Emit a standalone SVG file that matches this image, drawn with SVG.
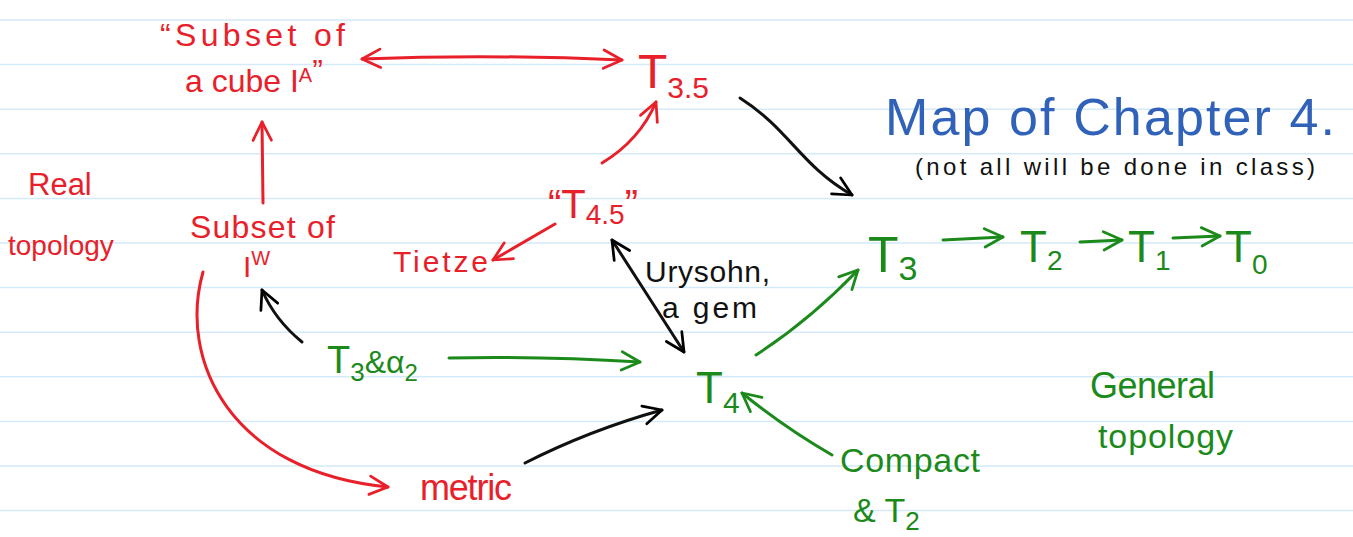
<svg xmlns="http://www.w3.org/2000/svg" width="1353" height="537" viewBox="0 0 1353 537">
  <defs>
    <marker id="hr" viewBox="0 0 12 12" refX="11" refY="6" markerUnits="userSpaceOnUse" markerWidth="22" markerHeight="22" orient="auto-start-reverse">
      <path d="M1,1 L11,6 L1,11" fill="none" stroke="#e8202a" stroke-width="1.5" stroke-linecap="round" stroke-linejoin="round"/>
    </marker>
    <marker id="hk" viewBox="0 0 12 12" refX="11" refY="6" markerUnits="userSpaceOnUse" markerWidth="22" markerHeight="22" orient="auto-start-reverse">
      <path d="M1,1 L11,6 L1,11" fill="none" stroke="#000" stroke-width="1.5" stroke-linecap="round" stroke-linejoin="round"/>
    </marker>
    <marker id="hg" viewBox="0 0 12 12" refX="11" refY="6" markerUnits="userSpaceOnUse" markerWidth="22" markerHeight="22" orient="auto-start-reverse">
      <path d="M1,1 L11,6 L1,11" fill="none" stroke="#1b8a1b" stroke-width="1.5" stroke-linecap="round" stroke-linejoin="round"/>
    </marker>
  </defs>
  <style>
    text { font-family: "Liberation Sans", "DejaVu Sans", sans-serif; }
    .r { fill: #e8202a; }
    .g { fill: #1b8a1b; }
    .k { fill: #111; }
    .b { fill: #2f62b8; }
    .cr { fill: none; stroke: #e8202a; stroke-width: 3; stroke-linecap: round; }
    .ck { fill: none; stroke: #111; stroke-width: 3; stroke-linecap: round; }
    .cg { fill: none; stroke: #1b8a1b; stroke-width: 3; stroke-linecap: round; }
    .rule { stroke: #d4eaf8; stroke-width: 1.5; }
  </style>

  <!-- paper -->
  <rect width="1353" height="537" fill="#fff"/>
  <g id="ruling">
    <line class="rule" x1="0" y1="20" x2="1353" y2="20"/>
    <line class="rule" x1="0" y1="64.6" x2="1353" y2="64.6"/>
    <line class="rule" x1="0" y1="109.2" x2="1353" y2="109.2"/>
    <line class="rule" x1="0" y1="153.8" x2="1353" y2="153.8"/>
    <line class="rule" x1="0" y1="198.4" x2="1353" y2="198.4"/>
    <line class="rule" x1="0" y1="243" x2="1353" y2="243"/>
    <line class="rule" x1="0" y1="287.6" x2="1353" y2="287.6"/>
    <line class="rule" x1="0" y1="332.2" x2="1353" y2="332.2"/>
    <line class="rule" x1="0" y1="376.8" x2="1353" y2="376.8"/>
    <line class="rule" x1="0" y1="421.4" x2="1353" y2="421.4"/>
    <line class="rule" x1="0" y1="466" x2="1353" y2="466"/>
    <line class="rule" x1="0" y1="510.6" x2="1353" y2="510.6"/>
  </g>

  <!-- connectors -->
  <g id="connectors">
    <path class="cr" d="M362,59 Q490,54 622,60" marker-start="url(#hr)" marker-end="url(#hr)"/>
    <path class="cr" d="M263,203 L262,122" marker-end="url(#hr)"/>
    <path class="cr" d="M203,272 C178,360 230,472 388,487" marker-end="url(#hr)"/>
    <path class="cr" d="M602,163 Q640,140 656,102" marker-end="url(#hr)"/>
    <path class="cr" d="M555,224 L493,260" marker-end="url(#hr)"/>
    <path class="ck" d="M740,98 C790,130 800,165 852,195" marker-end="url(#hk)"/>
    <path class="ck" d="M612,240 L684,352" marker-start="url(#hk)" marker-end="url(#hk)"/>
    <path class="ck" d="M302,342 Q275,320 262,290" marker-end="url(#hk)"/>
    <path class="ck" d="M525,463 Q590,430 662,410" marker-end="url(#hk)"/>
    <path class="cg" d="M449,358 Q540,356 640,362" marker-end="url(#hg)"/>
    <path class="cg" d="M756,355 Q810,320 858,270" marker-end="url(#hg)"/>
    <path class="cg" d="M832,455 Q785,428 742,393" marker-end="url(#hg)"/>
    <path class="cg" d="M943,240 L1003,237" marker-end="url(#hg)"/>
    <path class="cg" d="M1080,242 L1122,240" marker-end="url(#hg)"/>
    <path class="cg" d="M1173,238 L1220,236" marker-end="url(#hg)"/>
  </g>

  <!-- title -->
  <g id="title">
    <text class="b" x="885" y="135" font-size="52" textLength="450">Map of Chapter 4.</text>
    <text class="k" x="915" y="175" font-size="24" textLength="400">(not all will be done in class)</text>
  </g>

  <!-- side labels -->
  <g id="real-topology">
    <text class="r" x="28" y="195" font-size="31">Real</text>
    <text class="r" x="8" y="255" font-size="28">topology</text>
  </g>
  <g id="general-topology">
    <text class="g" x="1090" y="398" font-size="36" textLength="125">General</text>
    <text class="g" x="1098" y="448" font-size="34" textLength="135">topology</text>
  </g>

  <!-- nodes -->
  <g id="subset-cube">
    <text class="r" x="160" y="46" font-size="32" textLength="185">“Subset of</text>
    <text class="r" x="185" y="92" font-size="32">a cube I<tspan font-size="20" dy="-10">A</tspan><tspan dy="0">”</tspan></text>
  </g>
  <g id="t35">
    <text class="r" x="638" y="88" font-size="48">T<tspan font-size="30" dy="10">3.5</tspan></text>
  </g>
  <g id="subset-iw">
    <text class="r" x="190" y="238" font-size="32" textLength="145">Subset of</text>
    <text class="r" x="243" y="277" font-size="30">I<tspan font-size="20" dy="-12">W</tspan></text>
  </g>
  <g id="t45">
    <text class="r" x="548" y="218" font-size="40">“T<tspan font-size="28" dy="6">4.5</tspan><tspan dy="-6">”</tspan></text>
  </g>
  <g id="tietze">
    <text class="r" x="393" y="272" font-size="30" textLength="95">Tietze</text>
  </g>
  <g id="urysohn-label">
    <text class="k" x="645" y="282" font-size="30" textLength="125">Urysohn,</text>
    <text class="k" x="662" y="318" font-size="30" textLength="95">a gem</text>
  </g>
  <g id="t3-alpha2">
    <text class="g" x="327" y="373" font-size="38">T<tspan font-size="26" dy="8">3</tspan><tspan font-size="32" dy="-8">&amp;α</tspan><tspan font-size="24" dy="8">2</tspan></text>
  </g>
  <g id="metric">
    <text class="r" x="420" y="500" font-size="36" textLength="92">metric</text>
  </g>
  <g id="t4">
    <text class="g" x="696" y="403" font-size="44">T<tspan font-size="30" dy="10">4</tspan></text>
  </g>
  <g id="compact-t2">
    <text class="g" x="840" y="472" font-size="34" textLength="140">Compact</text>
    <text class="g" x="853" y="522" font-size="34">&amp; T<tspan font-size="26" dy="8">2</tspan></text>
  </g>
  <g id="t3">
    <text class="g" x="868" y="272" font-size="50">T<tspan font-size="34" dy="8">3</tspan></text>
  </g>
  <g id="t2">
    <text class="g" x="1020" y="262" font-size="44">T<tspan font-size="28" dy="8">2</tspan></text>
  </g>
  <g id="t1">
    <text class="g" x="1128" y="262" font-size="44">T<tspan font-size="28" dy="8">1</tspan></text>
  </g>
  <g id="t0">
    <text class="g" x="1225" y="262" font-size="44">T<tspan font-size="28" dy="12">0</tspan></text>
  </g>
</svg>
